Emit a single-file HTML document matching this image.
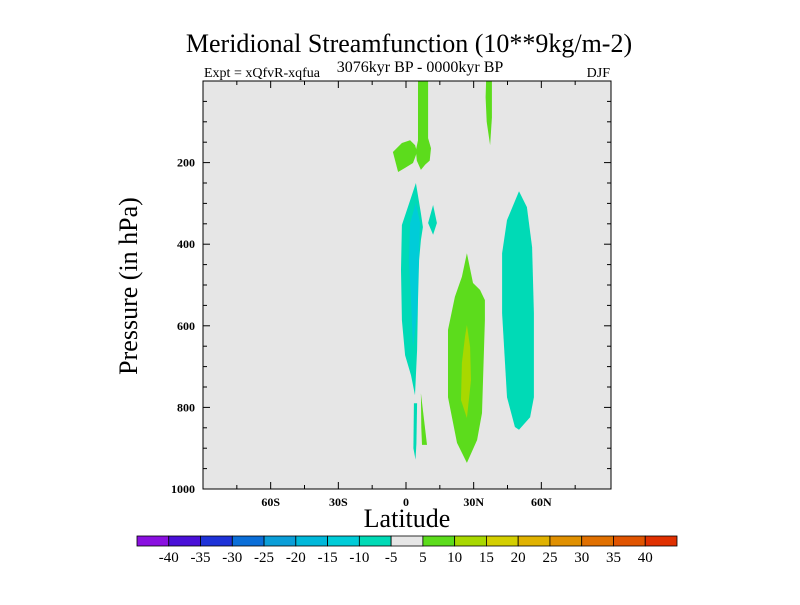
<!DOCTYPE html>
<html><head><meta charset="utf-8"><style>
body{margin:0;background:#fff;}
svg text{font-family:"Liberation Serif",serif;fill:#000;}
</style></head><body>
<svg id="chart" width="800" height="600" xmlns="http://www.w3.org/2000/svg">
<text x="409" y="52" font-size="26" text-anchor="middle">Meridional Streamfunction (10**9kg/m-2)</text>
<text x="204" y="77" font-size="14">Expt = xQfvR-xqfua</text>
<text x="420" y="72" font-size="16" text-anchor="middle">3076kyr BP - 0000kyr BP</text>
<text x="610" y="77" font-size="14" text-anchor="end">DJF</text>
<rect x="203" y="81" width="408" height="408" fill="#e6e6e6"/>
<g id="contours"></g>
<rect x="203" y="81" width="408" height="408" fill="none" stroke="#000" stroke-width="1"/>
<g id="axes"></g>
<text x="407" y="527" font-size="26" text-anchor="middle">Latitude</text>
<text transform="translate(137,286) rotate(-90)" font-size="26" text-anchor="middle">Pressure (in hPa)</text>
<g id="colorbar"></g>
</svg>
<script>
const xTickLabels=["60S","30S","0","30N","60N"];
const xTickValues=[-60,-30,0,30,60];
const yTickValues=[200,400,600,800,1000];
const levelLabels=["-40","-35","-30","-25","-20","-15","-10","-5","5","10","15","20","25","30","35","40"];
const levelColors=["#8a10e0","#4a10d8","#1e32d8","#0a6ed8","#0a9ed8","#00b8da","#00ccd8","#00dab6","#e6e6e6","#5cdc1c","#a8d800","#d4cf00","#e0b200","#e09000","#e07000","#e05400","#e03000"];
// contours: [colorIndex, [[lat,p],...]]
const contourGreen1=[[5.3,0],[9.8,0],[9.8,140],[11.1,165],[10.5,195],[8.5,205],[6.6,218],[4.8,195],[4.4,170],[5.3,145]];
const contourGreen2=[[-5.8,174],[-1.8,152],[1.8,145],[4,157],[4.9,174],[3.1,201],[-0.4,213],[-3.5,223]];
const contourGreen3=[[35.5,0],[38.1,0],[38.1,90],[37.3,157],[35.8,100],[35.3,40]];
const contourCyan1=[[4.4,250],[6.6,324],[7.5,358],[6.6,390],[5.8,439],[5.3,537],[4.9,659],[4,770],[2.2,721],[-0.4,672],[-1.8,586],[-2.2,463],[-1.8,353]];
const contourCyan2=[[9.8,348],[12,304],[13.7,348],[12,377]];
const contourCyanDark=[[1.8,348],[4.4,299],[6.2,348],[4.9,569],[3.1,652],[2.2,537],[1.3,439]];
const contourCyan3=[[3.5,790],[4.9,790],[4.6,890],[4.2,928],[3.3,900]];
const contourGreen4=[[6.6,765],[9.3,892],[7.1,892],[6.8,850]];
const contourGreen5=[[27,422],[29.7,495],[32.8,512],[35,537],[35,586],[33.7,814],[31.5,880],[27,936],[22.6,887],[18.6,775],[18.6,610],[21.7,529],[24.8,480]];
const contourYellow=[[27,598],[28.4,652],[28.8,733],[27,826],[24.4,782],[24.8,691],[26.2,625]];
const contourCyan4=[[50.1,270],[53.6,309],[55.9,407],[56.7,569],[56.7,775],[55,824],[50.1,855],[48.3,848],[44.8,775],[42.6,569],[42.6,422],[44.8,341]];
const contours=[[9,contourGreen1],[9,contourGreen2],[9,contourGreen3],[7,contourCyan1],[7,contourCyan2],[6,contourCyanDark],[7,contourCyan3],[9,contourGreen4],[9,contourGreen5],[10,contourYellow],[7,contourCyan4]];
const NS="http://www.w3.org/2000/svg";
const xs=lat=>406+lat*(203/90);
const ys=p=>81+p*0.408;
function mk(tag,attrs,parent){const e=document.createElementNS(NS,tag);for(const k in attrs)e.setAttribute(k,attrs[k]);parent.appendChild(e);return e;}
const cg=document.getElementById('contours');
contours.forEach((c,i)=>{
  const e=mk('polygon',{points:c[1].map(q=>xs(q[0]).toFixed(1)+','+ys(q[1]).toFixed(1)).join(' '),fill:levelColors[c[0]]},cg);
  
  
});
const ax=document.getElementById('axes');
for(let lat=-75;lat<=75;lat+=15){
  const major=lat%30===0;const len=major?7:4;
  [[489,489-len],[81,81+len]].forEach(([a,b])=>{const t=mk('line',{x1:xs(lat),x2:xs(lat),y1:a,y2:b,stroke:'#000'},ax);
  
  });
}
xTickValues.forEach((v,i)=>{const t=mk('text',{x:xs(v),y:506,'font-size':12,'font-weight':'bold','text-anchor':'middle'},ax);t.textContent=xTickLabels[i];

});
for(let p=50;p<1000;p+=50){
  const major=p%200===0;const len=major?7:4;
  [[203,203+len],[611,611-len]].forEach(([a,b])=>{const t=mk('line',{x1:a,x2:b,y1:ys(p),y2:ys(p),stroke:'#000'},ax);
  
  });
}
yTickValues.forEach(v=>{const t=mk('text',{x:195,y:ys(v)+4,'font-size':12,'font-weight':'bold','text-anchor':'end'},ax);t.textContent=v;

});
const cb=document.getElementById('colorbar');
const bw=540/17;
levelColors.forEach((c,i)=>{const r=mk('rect',{x:137+i*bw,y:536,width:bw,height:10,fill:c,stroke:'#000','stroke-width':0.8},cb);

});
levelLabels.forEach((l,i)=>{const t=mk('text',{x:137+(i+1)*bw,y:562,'font-size':15,'text-anchor':'middle'},cb);t.textContent=l;

});
</script>
</body></html>
